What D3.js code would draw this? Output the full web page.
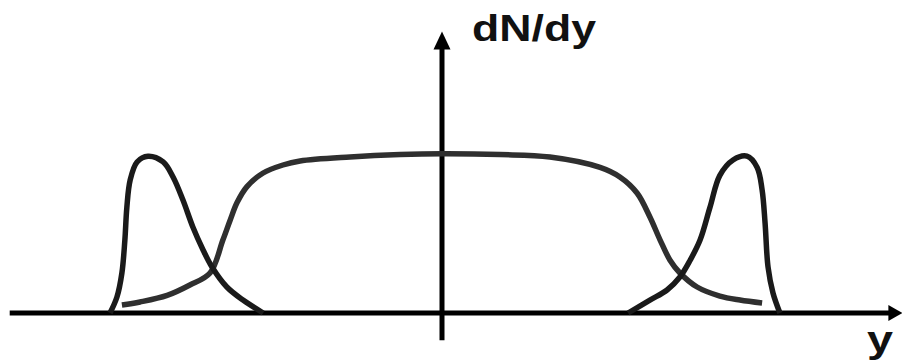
<!DOCTYPE html>
<html>
<head>
<meta charset="utf-8">
<script src="https://cdn.jsdelivr.net/npm/d3@7"></script>
<style>
  html, body { margin: 0; padding: 0; background: #fff; }
  svg { display: block; }
</style>
</head>
<body>
<svg id="chart" width="902" height="363"></svg>
<script>
// Rapidity (y) in arbitrary units, dN/dy normalised to plateau height.
const plateauY = [-9.70, -9.15, -8.33, -7.64, -7.03, -6.64, -6.42, -6.21, -5.91, -5.42, -4.82, -4.30, -2.79, -1.27, 0, 1.76, 3.27, 4.79, 5.39, 5.91, 6.30, 6.61, 6.91, 7.21, 7.73, 8.42, 9.03, 9.70];
const plateauN = [0.05, 0.069, 0.11, 0.175, 0.25, 0.456, 0.58, 0.69, 0.79, 0.875, 0.925, 0.95, 0.975, 0.99, 0.995, 0.99, 0.975, 0.91, 0.85, 0.75, 0.60, 0.456, 0.33, 0.25, 0.1625, 0.106, 0.081, 0.0625];

const leftPeakY = [-10.06, -9.85, -9.70, -9.61, -9.55, -9.45, -9.24, -8.91, -8.45, -8.15, -7.85, -7.55, -7.24, -6.97, -6.52, -6.03, -5.42];
const leftPeakN = [0, 0.10, 0.25, 0.456, 0.66, 0.83, 0.944, 0.98, 0.944, 0.85, 0.706, 0.5375, 0.394, 0.2875, 0.1625, 0.081, 0];

const rightPeakY = [5.64, 6.30, 6.82, 7.21, 7.52, 7.82, 8.12, 8.42, 8.82, 9.24, 9.55, 9.70, 9.79, 9.88, 10.03, 10.24];
const rightPeakN = [0, 0.081, 0.144, 0.225, 0.33, 0.456, 0.66, 0.86, 0.956, 0.98, 0.91, 0.77, 0.5625, 0.2875, 0.125, 0];

const axisLabels = ["y", "dN/dy"];
const xAxisExtent = [-13.1, 13.95];
const yAxisExtent = [-0.17, 1.76];

const svg = d3.select("#chart");
const x = d3.scaleLinear().domain([-10, 10]).range([112, 772]);
const yS = d3.scaleLinear().domain([0, 1]).range([313, 153]);

const zip = (a, b) => a.map((v, i) => [v, b[i]]);
const line = d3.line().x(d => x(d[0])).y(d => yS(d[1])).curve(d3.curveCatmullRom.alpha(0.5));

// axes
const gA = svg.append("g");
const x0 = x(xAxisExtent[0]), x1 = x(xAxisExtent[1]), yb = yS(0);
gA.append("line").attr("x1", x0).attr("x2", x1 - 10).attr("y1", yb).attr("y2", yb)
  .attr("stroke", "#000").attr("stroke-width", 5);
gA.append("path").attr("d", `M${x1},${yb} L${x1 - 14},${yb - 8} L${x1 - 14},${yb + 8} Z`).attr("fill", "#000");

const xc = x(0), yt = yS(yAxisExtent[1]), ybot = yS(yAxisExtent[0]);
gA.append("line").attr("x1", xc).attr("x2", xc).attr("y1", ybot).attr("y2", yt + 12)
  .attr("stroke", "#000").attr("stroke-width", 5);
gA.append("path").attr("d", `M${xc},${yt} L${xc - 8.5},${yt + 18} L${xc + 8.5},${yt + 18} Z`).attr("fill", "#000");

// curves
svg.append("path").datum(zip(plateauY, plateauN)).attr("d", line)
  .attr("fill", "none").attr("stroke", "#2f2f2f").attr("stroke-width", 5.5);
svg.append("path").datum(zip(leftPeakY, leftPeakN)).attr("d", line)
  .attr("fill", "none").attr("stroke", "#1a1a1a").attr("stroke-width", 5.5).attr("stroke-linejoin", "round");
svg.append("path").datum(zip(rightPeakY, rightPeakN)).attr("d", line)
  .attr("fill", "none").attr("stroke", "#1a1a1a").attr("stroke-width", 5.5).attr("stroke-linejoin", "round");

// labels
svg.append("text").text(axisLabels[1]).attr("x", 472).attr("y", 41)
  .attr("font-family", "Liberation Sans, Arial, sans-serif").attr("font-weight", "bold")
  .attr("font-size", 36.5).attr("fill", "#111")
  .attr("textLength", 124).attr("lengthAdjust", "spacingAndGlyphs");
svg.append("text").text(axisLabels[0]).attr("x", 867).attr("y", 352)
  .attr("font-family", "Liberation Sans, Arial, sans-serif").attr("font-weight", "bold")
  .attr("font-size", 37).attr("fill", "#111")
  .attr("textLength", 26).attr("lengthAdjust", "spacingAndGlyphs");
</script>
</body>
</html>
